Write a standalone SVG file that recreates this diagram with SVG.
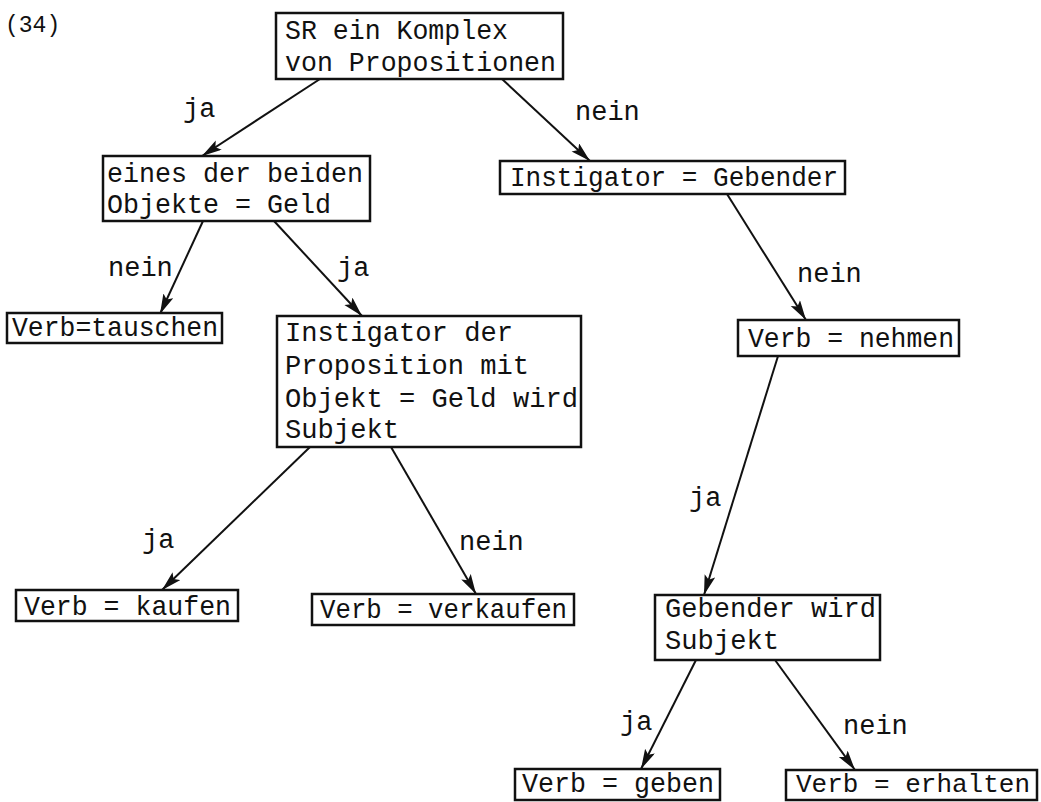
<svg xmlns="http://www.w3.org/2000/svg" width="1041" height="802" viewBox="0 0 1041 802">
<style>
  .box { fill: #ffffff; stroke: #111111; stroke-width: 2.5; }
  text { font-family: "Liberation Mono", "Courier New", monospace; font-size: 28px; fill: #111111; }
  .lbl { font-size: 27px; }
  .edge { stroke: #111111; stroke-width: 2; fill: none; marker-end: url(#arrow); }
</style>
<defs>
  <marker id="arrow" markerUnits="userSpaceOnUse" markerWidth="22" markerHeight="12" refX="20" refY="5.5" orient="auto">
    <path d="M0,0 L20,5.5 L0,11 L4,5.5 z" fill="#111111"/>
  </marker>
</defs>
<rect width="1041" height="802" fill="#ffffff"/>
<text x="5" y="32" style="font-size:23px">(34)</text>

<g id="connectors">
  <line class="edge" x1="320" y1="79" x2="202" y2="156"/>
  <line class="edge" x1="502" y1="79" x2="590" y2="161"/>
  <line class="edge" x1="203" y1="221" x2="160" y2="314"/>
  <line class="edge" x1="274" y1="221" x2="362" y2="316"/>
  <line class="edge" x1="727" y1="194" x2="806" y2="320"/>
  <line class="edge" x1="778" y1="356" x2="704" y2="595"/>
  <line class="edge" x1="310" y1="447" x2="162" y2="590"/>
  <line class="edge" x1="391" y1="447" x2="476" y2="594"/>
  <line class="edge" x1="696" y1="660" x2="641" y2="769"/>
  <line class="edge" x1="775" y1="660" x2="855" y2="770"/>
  <text class="lbl" x="183" y="117">ja</text>
  <text class="lbl" x="575" y="120">nein</text>
  <text class="lbl" x="108" y="276">nein</text>
  <text class="lbl" x="337" y="276">ja</text>
  <text class="lbl" x="797" y="282">nein</text>
  <text class="lbl" x="689" y="506">ja</text>
  <text class="lbl" x="142" y="548">ja</text>
  <text class="lbl" x="459" y="550">nein</text>
  <text class="lbl" x="620" y="730">ja</text>
  <text class="lbl" x="843" y="734">nein</text>
</g>

<g id="n1">
  <rect class="box" x="276" y="13" width="287" height="66"/>
  <text x="285" y="39" textLength="223" lengthAdjust="spacingAndGlyphs">SR ein Komplex</text>
  <text x="285" y="71" textLength="271" lengthAdjust="spacingAndGlyphs">von Propositionen</text>
</g>
<g id="n2">
  <rect class="box" x="103" y="156" width="267" height="65"/>
  <text x="107" y="182" textLength="256" lengthAdjust="spacingAndGlyphs">eines der beiden</text>
  <text x="107" y="213" textLength="224" lengthAdjust="spacingAndGlyphs">Objekte = Geld</text>
</g>
<g id="n3">
  <rect class="box" x="500" y="161" width="345" height="33"/>
  <text x="510" y="186" textLength="328" lengthAdjust="spacingAndGlyphs">Instigator = Gebender</text>
</g>
<g id="n4">
  <rect class="box" x="7" y="313" width="215" height="30"/>
  <text x="12" y="336" textLength="206" lengthAdjust="spacingAndGlyphs">Verb=tauschen</text>
</g>
<g id="n5">
  <rect class="box" x="277" y="316" width="304" height="131"/>
  <text x="285" y="341" textLength="228" lengthAdjust="spacingAndGlyphs">Instigator der</text>
  <text x="285" y="374" textLength="244" lengthAdjust="spacingAndGlyphs">Proposition mit</text>
  <text x="285" y="407" textLength="293" lengthAdjust="spacingAndGlyphs">Objekt = Geld wird</text>
  <text x="285" y="438" textLength="114" lengthAdjust="spacingAndGlyphs">Subjekt</text>
</g>
<g id="n6">
  <rect class="box" x="738" y="320" width="221" height="36"/>
  <text x="748" y="347" textLength="206" lengthAdjust="spacingAndGlyphs">Verb = nehmen</text>
</g>
<g id="n7">
  <rect class="box" x="16" y="590" width="222" height="31"/>
  <text x="24" y="615" textLength="207" lengthAdjust="spacingAndGlyphs">Verb = kaufen</text>
</g>
<g id="n8">
  <rect class="box" x="312" y="594" width="262" height="31"/>
  <text x="320" y="618" textLength="247" lengthAdjust="spacingAndGlyphs">Verb = verkaufen</text>
</g>
<g id="n9">
  <rect class="box" x="655" y="595" width="225" height="65"/>
  <text x="665" y="617" textLength="211" lengthAdjust="spacingAndGlyphs">Gebender wird</text>
  <text x="665" y="649" textLength="114" lengthAdjust="spacingAndGlyphs">Subjekt</text>
</g>
<g id="n10">
  <rect class="box" x="515" y="769" width="205" height="31"/>
  <text x="522" y="792" textLength="192" lengthAdjust="spacingAndGlyphs">Verb = geben</text>
</g>
<g id="n11">
  <rect class="box" x="786" y="770" width="251" height="30"/>
  <text x="796" y="792" style="font-size:26px" textLength="234" lengthAdjust="spacingAndGlyphs">Verb = erhalten</text>
</g>
</svg>
